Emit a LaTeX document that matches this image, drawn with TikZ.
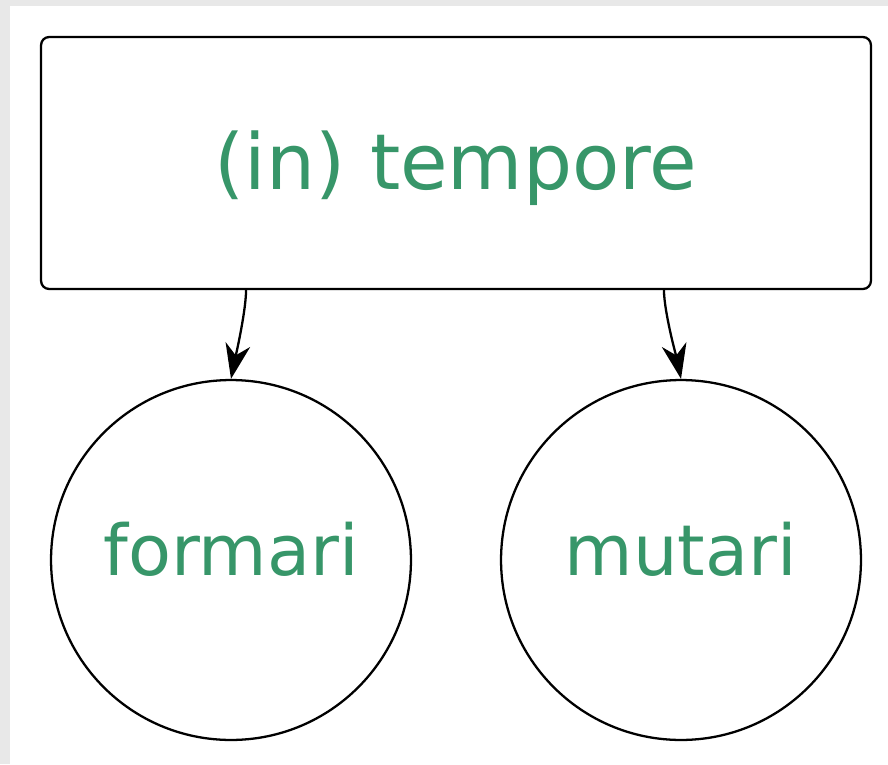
\documentclass[tikz,border=0pt]{standalone}
\usepackage{fontspec}
\setmainfont{DejaVu Sans}
\usepackage{xcolor}
\usetikzlibrary{positioning,arrows.meta}
\definecolor{latgreen}{RGB}{55,150,105}

\begin{document}
\begin{tikzpicture}[x=0.02cm,y=-0.02cm,>={Stealth[length=0.7cm,width=0.5cm,inset=0.22cm]},semithick]
          \tikzstyle{every node}=[text=latgreen,line width=1.3pt,draw=black,text depth=0pt]
          \tikzstyle{word}=[circle,minimum size=7.2cm,inner sep=0pt,text height=0.6cm,font=\fontsize{40}{48}\selectfont]
          \fill[black!9] (0,0) rectangle (888,764);
          \fill[white] (10,6) rectangle (888,764);
          \node[rounded corners=0.16cm,minimum width=16.6cm,minimum height=5.04cm,text height=1.08cm,font=\fontsize{44}{52}\selectfont] (tempore) at (456,163) {(in) tempore};
          \node[word] (formari) at (231,560) {formari};
          \node[word] (mutari) at (681,560) {mutari};
          \draw[->,line width=1.3pt] ([xshift=-4.2cm]tempore.south) .. controls +(0,22) and +(3,-15) .. (formari.north);
          \draw[->,line width=1.3pt] ([xshift=4.16cm]tempore.south) .. controls +(0,22) and +(-3,-15) .. (mutari.north);
        \end{tikzpicture}
\end{document}
